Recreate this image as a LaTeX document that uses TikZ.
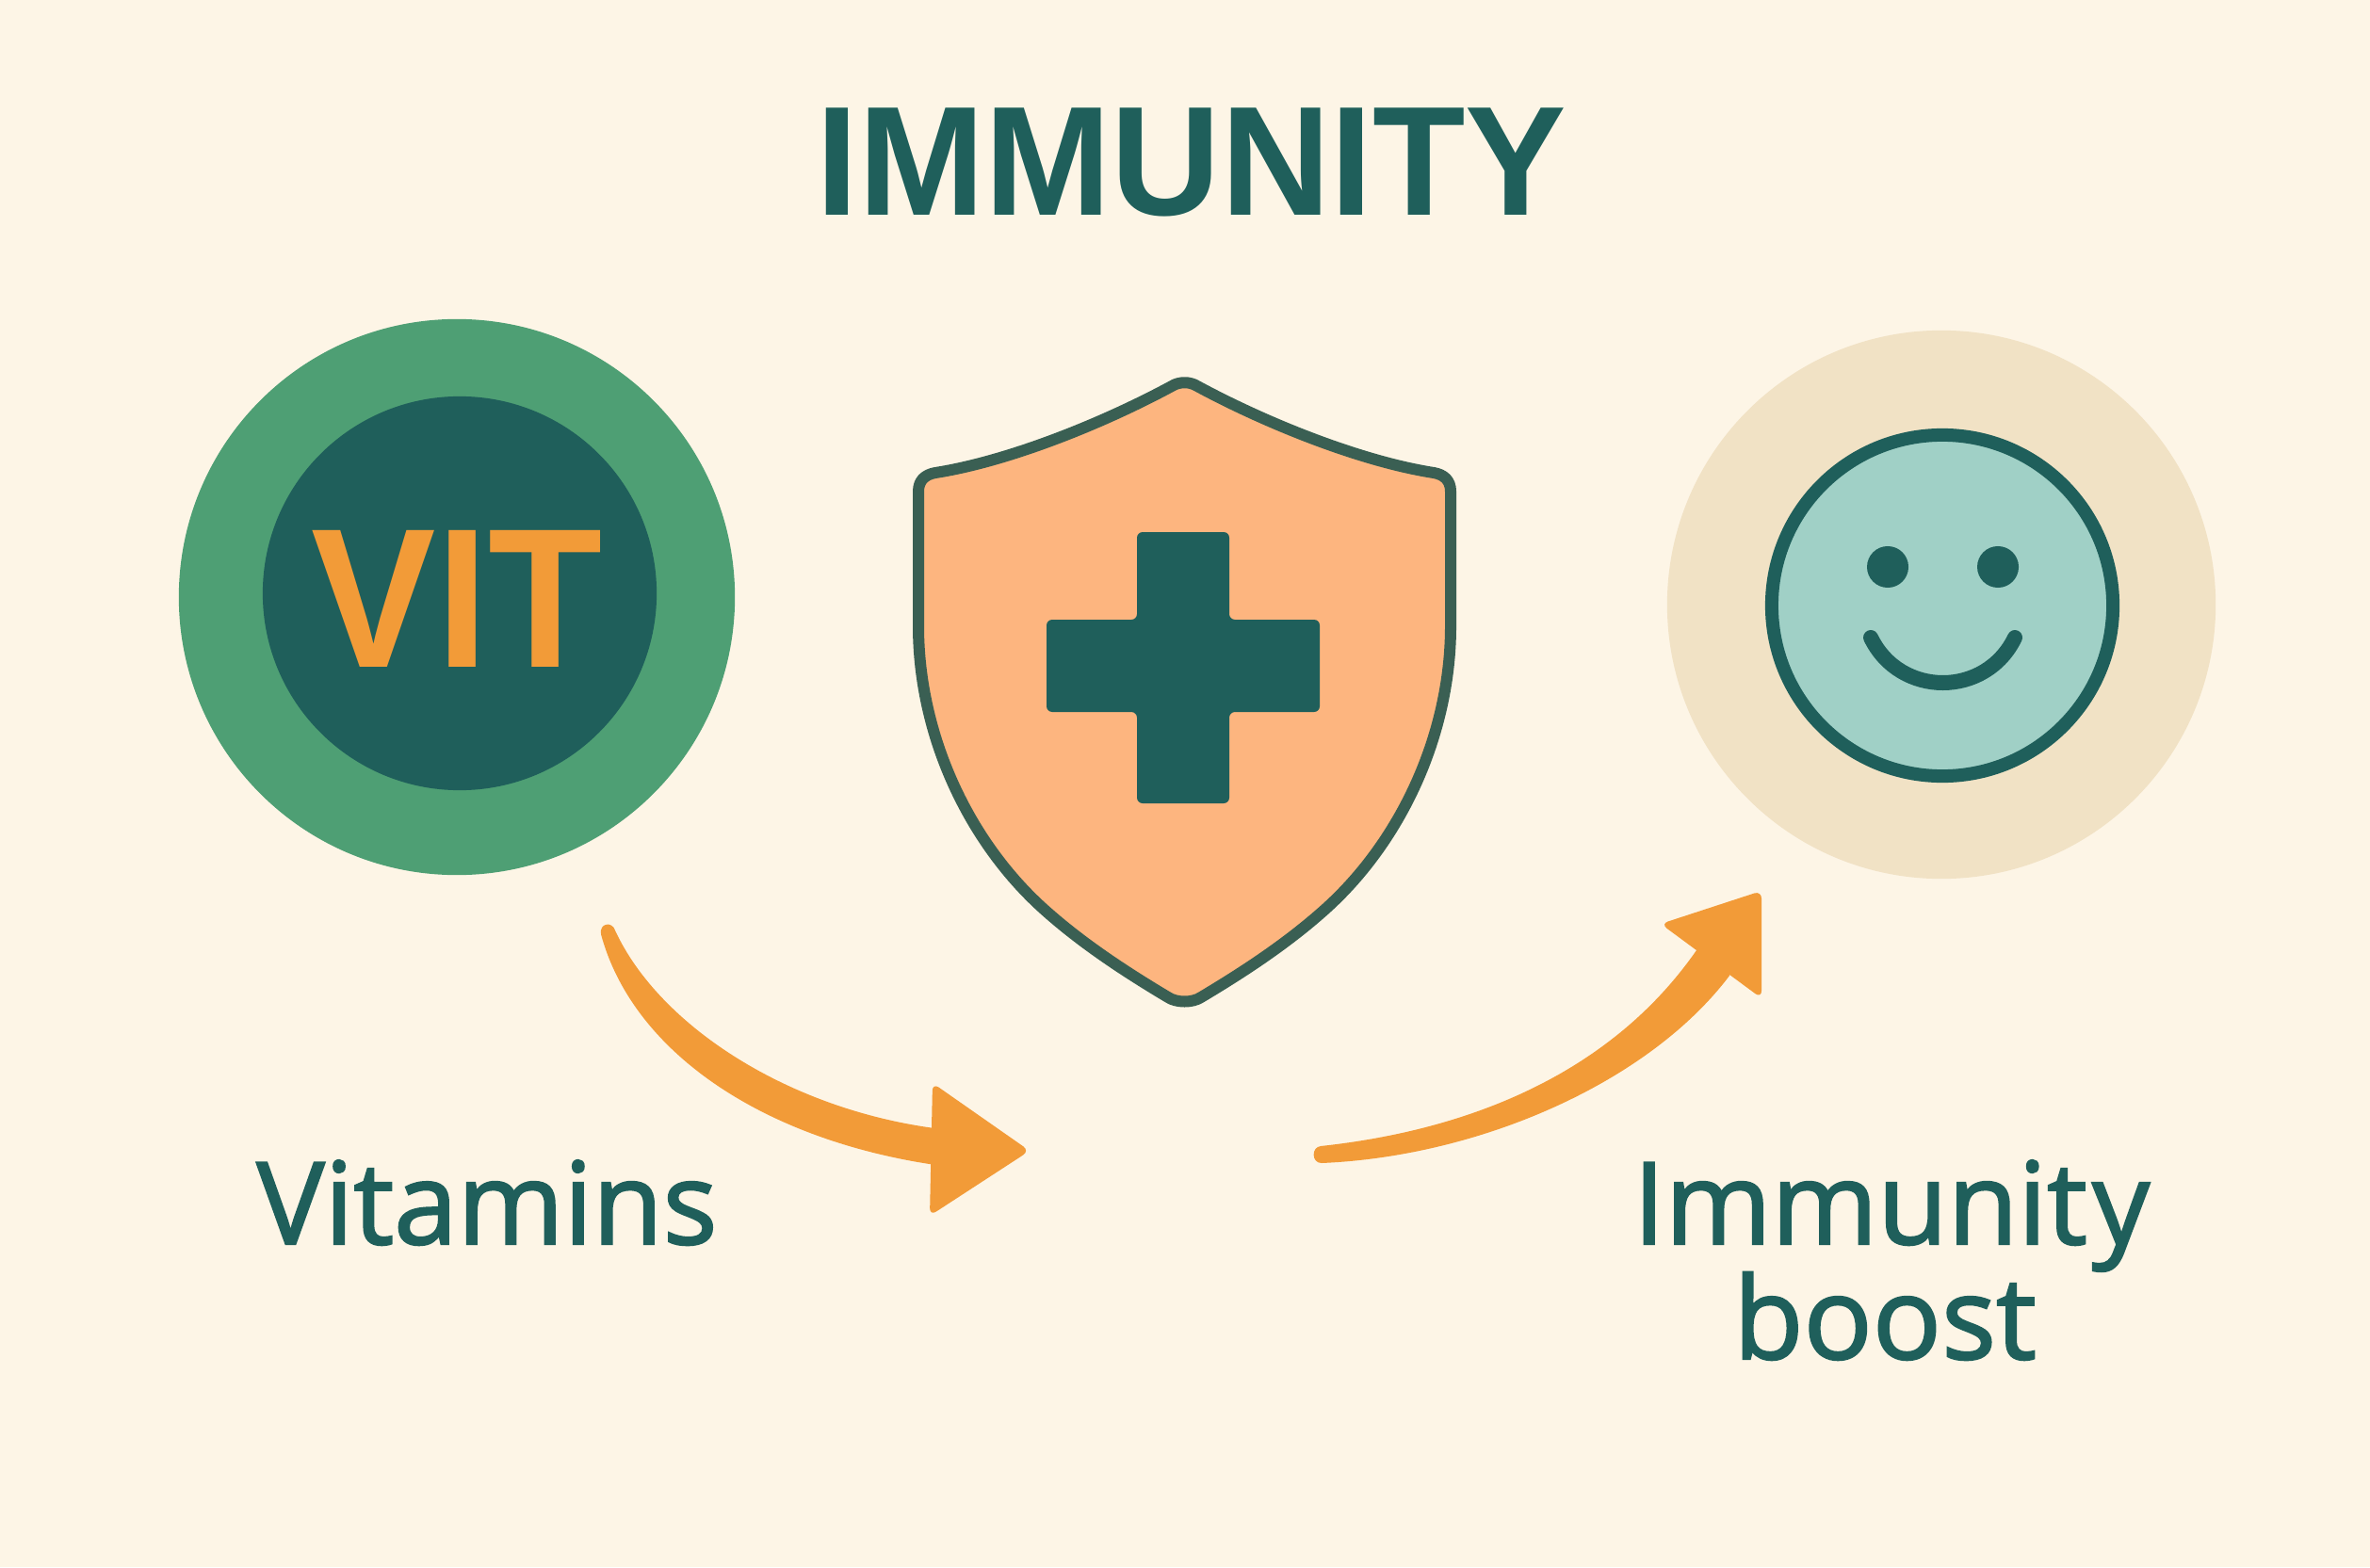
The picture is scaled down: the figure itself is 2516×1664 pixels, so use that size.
\documentclass[tikz,border=0pt]{standalone}
\usepackage{fontspec}
\usepackage{graphicx}
\setmainfont{Open Sans}
\newfontfamily\titlefont{Liberation Sans Bold}
\newfontfamily\labelfont{Open Sans}[FakeBold=1.8]
\usetikzlibrary{positioning, arrows.meta}

\definecolor{paper}{HTML}{FDF5E6}
\definecolor{teal}{HTML}{1F5F5B}
\definecolor{leaf}{HTML}{4E9F74}
\definecolor{amber}{HTML}{F29B38}
\definecolor{peach}{HTML}{FDB57F}
\definecolor{rim}{HTML}{3A5F53}
\definecolor{sand}{HTML}{F1E2C5}
\definecolor{mint}{HTML}{A0D0C6}

\newcommand{\squeezed}[2]{\scalebox{#1}[1]{#2}}

\begin{document}
\begin{tikzpicture}[
  x=0.01cm, y=-0.01cm,
  disc/.style={circle, inner sep=0pt, minimum size=#1},
  caption/.style={text=teal, anchor=base, font=\labelfont\fontsize{34.5}{34.7}\selectfont},
  shaft/.style={fill=amber},
  head/.style={fill=amber, rounded corners=0.8mm},
  outline/.style={draw=rim, line width=0.12cm, line join=round}
]

\fill[paper] (0,0) rectangle (2516,1664);

\node[text=teal, anchor=base, font=\titlefont\fontsize{47}{48}\selectfont] (title) at (1265,229) {\squeezed{0.975}{IMMUNITY}};

% vitamins
\node[disc=5.9cm, fill=leaf] (vitouter) at (485,634) {};
\node[disc=4.18cm, fill=teal] (vitinner) at (488,630) {};
\node[text=amber, anchor=base, font=\titlefont\fontsize{60}{60}\selectfont] (vittext) at (485,708) {\squeezed{0.94}{VIT}};
\node[caption] (vitlabel) at (517,1321) {Vitamins};

% shield
\draw[outline, fill=peach] (1244,410)
  .. controls (1252,405) and (1263,405) .. (1271,410)
  .. controls (1345,450) and (1445,490) .. (1522,502)
  .. controls (1533,504) and (1540,510) .. (1540,522)
  -- (1540,665)
  .. controls (1540,780) and (1487,895) .. (1404,968)
  .. controls (1360,1007) and (1310,1038) .. (1275,1059)
  .. controls (1266,1065) and (1249,1065) .. (1240,1059)
  .. controls (1205,1038) and (1155,1007) .. (1111,968)
  .. controls (1028,895) and (975,780) .. (975,665)
  -- (975,522)
  .. controls (975,510) and (982,504) .. (993,502)
  .. controls (1070,490) and (1170,450) .. (1244,410) -- cycle;
\fill[teal, rounded corners=0.06cm] (1207,565) -- (1305,565) -- (1305,658) -- (1401,658)
  -- (1401,756) -- (1305,756) -- (1305,853) -- (1207,853) -- (1207,756) -- (1111,756)
  -- (1111,658) -- (1207,658) -- cycle;

% smiley
\node[disc=5.82cm, fill=sand] (halo) at (2061,642) {};
\node[disc=3.62cm, fill=mint, draw=teal, line width=0.14cm] (face) at (2062,643) {};
\node[disc=0.44cm, fill=teal] (lefteye) at (2004,602) {};
\node[disc=0.44cm, fill=teal] (righteye) at (2121,602) {};
\coordinate (smileL) at (1986,677);
\coordinate (smileR) at (2139,677);
\draw[teal, line width=0.16cm, line cap=round] (smileL) .. controls (2017,741) and (2108,741) .. (smileR);
\node[caption] (boostlabel) at (2008,1321) {Immunit\kern1.5pt y};
\node[caption] (boostword) at (2001,1443) {boost};

% arrows
\coordinate (tailA) at (653,988);
\coordinate (tipA) at (1093,1222);
\fill[shaft] (tailA) .. controls (700,1090) and (840,1180) .. (1000,1199)
  -- (1000,1238)
  .. controls (812,1212) and (672,1118) .. (638,992)
  .. controls (636,980) and (650,978) .. (tailA) -- cycle;
\fill[head] (990,1150) -- (tipA) -- (987,1291) -- cycle;

\coordinate (tailB) at (1402,1217);
\coordinate (tipB) at (1870,946);
\fill[shaft] (tailB) .. controls (1560,1200) and (1710,1140) .. (1801,1009)
  -- (1840,1000) -- (1836,1036)
  .. controls (1750,1150) and (1570,1228) .. (1403,1235)
  .. controls (1392,1235) and (1392,1218) .. (tailB) -- cycle;
\fill[head] (1763,981) -- (tipB) -- (1870,1060) -- cycle;

\end{tikzpicture}
\end{document}
